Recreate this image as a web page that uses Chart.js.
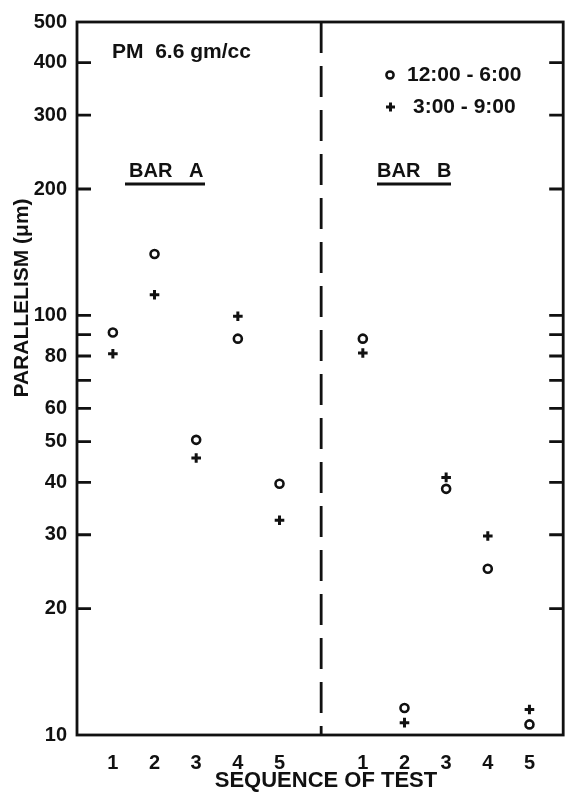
<!DOCTYPE html>
<html>
<head>
<meta charset="utf-8">
<script src="https://cdn.jsdelivr.net/npm/chart.js@4/dist/chart.umd.min.js"></script>
<style>
  html, body { margin: 0; padding: 0; background: #ffffff; }
  #wrap { width: 571px; height: 795px; }
</style>
</head>
<body>
<div id="wrap"><canvas id="c" width="571" height="795"></canvas></div>
<script>
// ---- data ----
const sequenceLabels = ['1', '2', '3', '4', '5'];
const sequence = [1, 2, 3, 4, 5];
const barA_1200_0600 = [91, 140, 50.5, 88, 39.7];
const barA_0300_0900 = [81, 112, 45.7, 99.5, 32.5];
const barB_1200_0600 = [88, 11.6, 38.6, 24.9, 10.6];
const barB_0300_0900 = [81.3, 10.7, 41.1, 29.8, 11.5];
const yTickValues = [10, 20, 30, 40, 50, 60, 70, 80, 90, 100, 200, 300, 400, 500];
const yTickLabels = ['10', '20', '30', '40', '50', '60', '', '80', '', '100', '200', '300', '400', '500'];
const seriesNames = ['12:00 - 6:00', '3:00 - 9:00'];
const groupNames = ['BAR   A', 'BAR   B'];
const noteText = 'PM  6.6 gm/cc';
const yTitle = 'PARALLELISM (\u03BCm)';
const xTitle = 'SEQUENCE OF TEST';

// group B is placed after a one-slot gap on the shared axis
const B_SHIFT = 6;
const DIVIDER = 6;

function pts(xs, ys, shift) { return xs.map((x, i) => ({ x: x + shift, y: ys[i] })); }

const FONT = '"Liberation Sans", Arial, sans-serif';
const INK = '#111111';

const xTickVals = sequence.concat(sequence.map(v => v + B_SHIFT));
const xTickText = sequenceLabels.concat(sequenceLabels);

const decor = {
  id: 'decor',
  beforeDatasetsDraw(chart) {
    const { ctx, chartArea: a, scales } = chart;
    const y = scales.y, x = scales.x;
    ctx.save();
    ctx.strokeStyle = INK;
    ctx.lineCap = 'butt';
    // frame
    ctx.lineWidth = 2.8;
    ctx.strokeRect(a.left, a.top, a.right - a.left, a.bottom - a.top);
    // inward tick marks on both sides
    ctx.lineWidth = 2.8;
    yTickValues.forEach(v => {
      if (v === y.min || v === y.max) return;
      const py = y.getPixelForValue(v);
      ctx.beginPath();
      ctx.moveTo(a.left, py); ctx.lineTo(a.left + 14, py);
      ctx.moveTo(a.right, py); ctx.lineTo(a.right - 14, py);
      ctx.stroke();
    });
    // dashed divider
    const dx = x.getPixelForValue(DIVIDER);
    ctx.lineWidth = 2.8;
    ctx.setLineDash([31, 13]);
    ctx.beginPath();
    ctx.moveTo(dx, a.top); ctx.lineTo(dx, a.bottom);
    ctx.stroke();
    ctx.setLineDash([]);

    // texts
    ctx.fillStyle = INK;
    ctx.textBaseline = 'middle';
    ctx.textAlign = 'left';
    ctx.font = 'bold 21px ' + FONT;
    ctx.fillText(noteText, 112, 52);

    // group labels with underline
    ctx.font = 'bold 20px ' + FONT;
    [[groupNames[0], 129, 125, 205], [groupNames[1], 377, 377, 451]].forEach(([t, tx, u0, u1]) => {
      ctx.fillText(t, tx, 171);
      ctx.lineWidth = 2.8;
      ctx.beginPath();
      ctx.moveTo(u0, 184); ctx.lineTo(u1, 184);
      ctx.stroke();
    });

    // legend
    ctx.font = 'bold 21px ' + FONT;
    ctx.fillText(seriesNames[0], 407, 75);
    ctx.fillText(seriesNames[1], 413, 107);
    ctx.lineWidth = 2.5;
    ctx.beginPath(); ctx.arc(390, 75, 3.6, 0, Math.PI * 2); ctx.stroke();
    ctx.lineWidth = 3;
    ctx.beginPath();
    ctx.moveTo(386, 107); ctx.lineTo(395, 107);
    ctx.moveTo(390.5, 102.5); ctx.lineTo(390.5, 111.5);
    ctx.stroke();

    // axis titles
    ctx.textAlign = 'center';
    ctx.font = 'bold 22px ' + FONT;
    ctx.fillText(xTitle, 326, 781);
    ctx.save();
    ctx.translate(22, 298);
    ctx.rotate(-Math.PI / 2);
    ctx.font = 'bold 21px ' + FONT;
    ctx.fillText(yTitle, 0, 0);
    ctx.restore();
    ctx.restore();
  }
};

new Chart(document.getElementById('c'), {
  type: 'scatter',
  data: {
    datasets: [
      {
        label: seriesNames[0],
        data: pts(sequence, barA_1200_0600, 0).concat(pts(sequence, barB_1200_0600, B_SHIFT)),
        pointStyle: 'circle', pointRadius: 4, borderWidth: 2.6,
        borderColor: INK, backgroundColor: '#ffffff'
      },
      {
        label: seriesNames[1],
        data: pts(sequence, barA_0300_0900, 0).concat(pts(sequence, barB_0300_0900, B_SHIFT)),
        pointStyle: 'cross', pointRadius: 4.8, borderWidth: 3,
        borderColor: INK, backgroundColor: INK
      }
    ]
  },
  options: {
    responsive: false,
    animation: false,
    events: [],
    layout: { padding: { left: 0, right: 6, top: 17, bottom: 0 } },
    plugins: { legend: { display: false }, tooltip: { enabled: false } },
    elements: { point: { hoverRadius: 0 } },
    scales: {
      x: {
        type: 'linear',
        min: 0.139, max: 11.81,
        grid: { display: false, drawTicks: false },
        border: { display: false },
        afterBuildTicks(s) { s.ticks = xTickVals.map(v => ({ value: v })); },
        afterFit(s) { s.height = 60; },
        ticks: {
          padding: 16,
          color: INK,
          font: { family: FONT, size: 20, weight: 'bold' },
          maxRotation: 0, autoSkip: false,
          callback: (v, i) => xTickText[i]
        }
      },
      y: {
        type: 'logarithmic',
        min: 10, max: 500,
        grid: { display: false, drawTicks: false },
        border: { display: false },
        afterBuildTicks(s) { s.ticks = yTickValues.map(v => ({ value: v })); },
        afterFit(s) { s.width = 77; },
        ticks: {
          padding: 10,
          color: INK,
          font: { family: FONT, size: 20, weight: 'bold' },
          autoSkip: false,
          callback: (v, i) => yTickLabels[i]
        }
      }
    }
  },
  plugins: [decor]
});
</script>
</body>
</html>
